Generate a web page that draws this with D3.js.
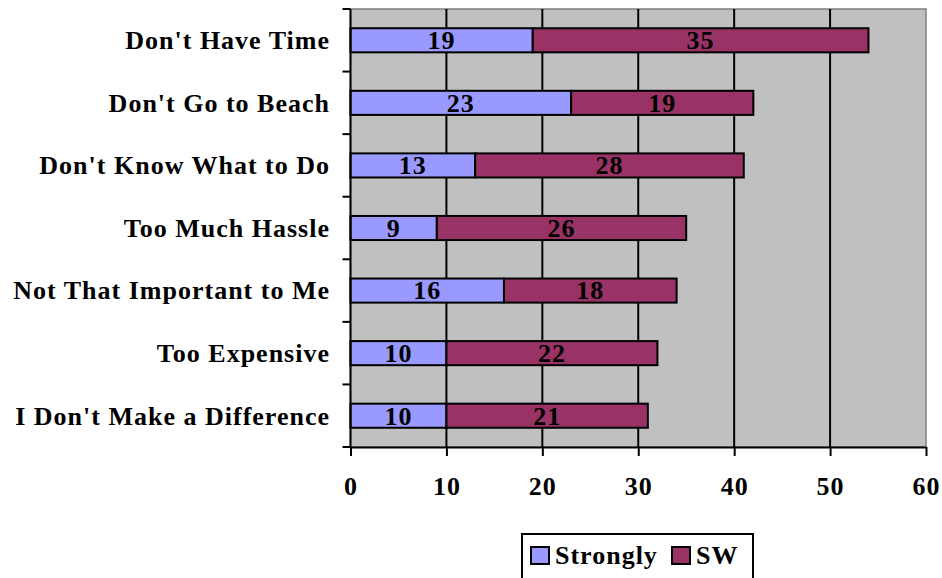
<!DOCTYPE html>
<html>
<head>
<meta charset="utf-8">
<script src="https://cdn.jsdelivr.net/npm/d3@7"></script>
<style>
  html, body { margin: 0; padding: 0; background: #fff; }
  svg { display: block; }
  text { font-family: "Liberation Serif", serif; font-weight: bold; fill: #000; letter-spacing: 1px; }
</style>
</head>
<body>
<svg id="chart" width="942" height="578"></svg>
<script>
const categories = ["Don't Have Time", "Don't Go to Beach", "Don't Know What to Do", "Too Much Hassle", "Not That Important to Me", "Too Expensive", "I Don't Make a Difference"];
const strongly = [19, 23, 13, 9, 16, 10, 10];
const sw = [35, 19, 28, 26, 18, 22, 21];
const seriesNames = ["Strongly", "SW"];
const seriesColors = ["#9999FF", "#993366"];
const xTicks = [0, 10, 20, 30, 40, 50, 60];

const FS = 26;
const svg = d3.select("#chart");
const margin = { left: 350.5, top: 9, right: 16, bottom: 131 };
const W = 942, H = 578;
const pw = W - margin.left - margin.right;
const ph = H - margin.top - margin.bottom;

const x = d3.scaleLinear().domain([0, 60]).range([margin.left, margin.left + pw]);
const y = d3.scaleBand().domain(categories).range([margin.top, margin.top + ph]).paddingInner(0.615).paddingOuter(0.3075);

// plot background
svg.append("rect").attr("x", margin.left).attr("y", margin.top).attr("width", pw).attr("height", ph)
  .attr("fill", "#C0C0C0").attr("stroke", "#808080").attr("stroke-width", 1.5);

// gridlines
svg.append("g").selectAll("line").data(xTicks.slice(1, -1)).join("line")
  .attr("x1", d => x(d)).attr("x2", d => x(d))
  .attr("y1", margin.top).attr("y2", margin.top + ph)
  .attr("stroke", "#000").attr("stroke-width", 2);

// stacked data
const rows = categories.map((c, i) => ({ cat: c, Strongly: strongly[i], SW: sw[i] }));
const stack = d3.stack().keys(seriesNames)(rows);

const layers = svg.append("g").selectAll("g").data(stack).join("g")
  .attr("fill", (d, i) => seriesColors[i]);
layers.selectAll("rect").data(d => d).join("rect")
  .attr("x", d => x(d[0]))
  .attr("y", d => y(d.data.cat))
  .attr("width", d => x(d[1]) - x(d[0]))
  .attr("height", y.bandwidth())
  .attr("stroke", "#000").attr("stroke-width", 2);

// data labels
const labels = svg.append("g");
stack.forEach(layer => {
  labels.selectAll(null).data(layer).join("text")
    .attr("x", d => (x(d[0]) + x(d[1])) / 2)
    .attr("y", d => y(d.data.cat) + y.bandwidth() / 2)
    .attr("dy", "0.34em")
    .attr("text-anchor", "middle")
    .attr("font-size", FS)
    .text(d => d[1] - d[0]);
});

// x axis
const xAxis = svg.append("g").attr("transform", `translate(0,${margin.top + ph})`)
  .call(d3.axisBottom(x).tickValues(xTicks).tickSize(9).tickSizeOuter(0).tickPadding(22));
xAxis.select(".domain").attr("stroke", "#000").attr("stroke-width", 2);
xAxis.selectAll(".tick line").attr("stroke", "#000").attr("stroke-width", 2);
xAxis.selectAll(".tick text").attr("font-size", FS).attr("font-family", null).attr("dy", "0.66em");

// y axis (ticks at band boundaries)
const boundaries = d3.range(categories.length + 1).map(i => margin.top + i * ph / categories.length);
const yAxis = svg.append("g");
yAxis.append("line").attr("x1", margin.left).attr("x2", margin.left)
  .attr("y1", margin.top).attr("y2", margin.top + ph).attr("stroke", "#000").attr("stroke-width", 2);
yAxis.selectAll(".tk").data(boundaries).join("line").attr("class", "tk")
  .attr("x1", margin.left - 8).attr("x2", margin.left).attr("y1", d => d).attr("y2", d => d)
  .attr("stroke", "#000").attr("stroke-width", 2);
yAxis.selectAll("text").data(categories).join("text")
  .attr("x", 330).attr("y", d => y(d) + y.bandwidth() / 2).attr("dy", "0.34em")
  .attr("text-anchor", "end").attr("font-size", FS).text(d => d);

// legend
const lg = svg.append("g");
lg.append("rect").attr("x", 522).attr("y", 534).attr("width", 231).attr("height", 60)
  .attr("fill", "#fff").attr("stroke", "#000").attr("stroke-width", 2);
const legX = [531, 672];
seriesNames.forEach((n, i) => {
  lg.append("rect").attr("x", legX[i]).attr("y", 547).attr("width", 18).attr("height", 17)
    .attr("fill", seriesColors[i]).attr("stroke", "#000").attr("stroke-width", 2);
  lg.append("text").attr("x", legX[i] + 24).attr("y", 555.5).attr("dy", "0.34em")
    .attr("font-size", FS).text(n);
});
</script>
</body>
</html>
